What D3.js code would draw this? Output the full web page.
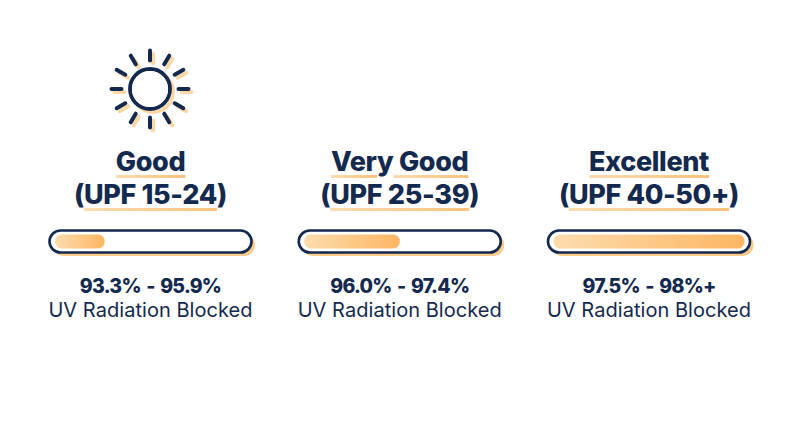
<!DOCTYPE html>
<html>
<head>
<meta charset="utf-8">
<script src="https://cdnjs.cloudflare.com/ajax/libs/d3/7.8.5/d3.min.js"></script>
<style>
  html, body { margin: 0; padding: 0; background: #fff; overflow: hidden; }
  text { font-family: Inter, "Open Sans", sans-serif; fill: #14294e; text-anchor: middle; }
  .rating { font-size: 27px; font-weight: 800; letter-spacing: -0.35px; }
  .range { font-size: 19.5px; font-weight: 800; letter-spacing: -0.75px; word-spacing: 2px; }
  .note { font-size: 20px; font-weight: 400; letter-spacing: 0.05px; }
</style>
</head>
<body>
<svg id="chart" width="800" height="447"></svg>
<script>
// values
const ratings = ['Good', 'Very Good', 'Excellent'];
const upf_labels = ['(UPF 15-24)', '(UPF 25-39)', '(UPF 40-50+)'];
const blocked_ranges = ['93.3% - 95.9%', '96.0% - 97.4%', '97.5% - 98%+'];
const note_label = 'UV Radiation Blocked';
const fill_shares = [0.26, 0.5, 1];

const navy = '#14294e';
const shadow = '#fbcb8a';

const svg = d3.select('#chart');
const defs = svg.append('defs');

const x = d3.scalePoint().domain(ratings).range([150.5, 649]);
const bar_w = 202, bar_h = 22, bar_y = 230.5, inset = 5.5;
const fill_x = d3.scaleLinear().domain([0, 1]).range([0, bar_w - 2 * inset]);

// gradients run across the drawn width, so one each
ratings.forEach((d, i) => {
  const g = defs.append('linearGradient').attr('id', `fill${i}`);
  g.append('stop').attr('offset', 0).attr('stop-color', '#fcdcae');
  g.append('stop').attr('offset', 1).attr('stop-color', '#fdb662');
});
const line_grad = defs.append('linearGradient').attr('id', 'under');
line_grad.append('stop').attr('offset', 0).attr('stop-color', '#fbdcb0');
line_grad.append('stop').attr('offset', 1).attr('stop-color', '#f9c27c');

// the sun only sits over the first column
function draw_sun(cx, cy) {
  const ray = d3.lineRadial();
  const layers = [[3, shadow, 0.75], [0, navy, 1]];
  layers.forEach(([off, color, op]) => {
    const g = svg.append('g')
      .attr('transform', `translate(${cx + off},${cy + off})`)
      .attr('stroke', color)
      .attr('opacity', op)
      .attr('fill', 'none')
      .attr('stroke-linecap', 'round');
    g.append('circle').attr('r', 20).attr('stroke-width', 3.8);
    g.selectAll('path')
      .data(d3.range(12))
      .join('path')
      .attr('stroke-width', 4)
      .attr('d', d => ray([[d * Math.PI / 6, 28.5], [d * Math.PI / 6, 38.5]]));
  });
  // white disc keeps the shadow ring from showing through the middle
  svg.append('circle').attr('cx', cx).attr('cy', cy).attr('r', 18).attr('fill', '#fff');
}

// underline stops at letters that hang below the baseline
function underline(node, y) {
  const str = node.textContent;
  const segs = [];
  let start = null;
  for (let i = 0; i < str.length; i++) {
    if ('()y'.includes(str[i])) {
      if (start !== null) {
        segs.push([start, node.getStartPositionOfChar(i).x]);
        start = null;
      }
    } else if (start === null) {
      start = node.getStartPositionOfChar(i).x;
    }
  }
  if (start !== null) segs.push([start, node.getEndPositionOfChar(str.length - 1).x]);
  segs.forEach(([a, b]) => {
    svg.insert('rect', 'text')
      .attr('x', a)
      .attr('y', y)
      .attr('width', b - a)
      .attr('height', 3)
      .attr('fill', 'url(#under)');
  });
}

draw_sun(150, 89);

ratings.forEach((d, i) => {
  const cx = x(d);
  const left = cx - bar_w / 2;

  const t1 = svg.append('text').attr('class', 'rating').attr('x', cx).attr('y', 171).text(d);
  underline(t1.node(), 175);
  const t2 = svg.append('text').attr('class', 'rating').attr('x', cx).attr('y', 204).text(upf_labels[i]);
  underline(t2.node(), 208);

  // bar: shadow, outline, fill
  svg.append('rect')
    .attr('x', left + 3.5).attr('y', bar_y + 3.5)
    .attr('width', bar_w).attr('height', bar_h)
    .attr('rx', bar_h / 2)
    .attr('fill', shadow);
  svg.append('rect')
    .attr('x', left).attr('y', bar_y)
    .attr('width', bar_w).attr('height', bar_h)
    .attr('rx', bar_h / 2)
    .attr('fill', '#fff')
    .attr('stroke', navy)
    .attr('stroke-width', 2.6);
  svg.append('rect')
    .attr('x', left + inset).attr('y', bar_y + 4)
    .attr('width', fill_x(fill_shares[i])).attr('height', bar_h - 8)
    .attr('rx', 6.5)
    .attr('fill', `url(#fill${i})`);

  svg.append('text').attr('class', 'range').attr('x', cx).attr('y', 293).text(blocked_ranges[i]);
  svg.append('text').attr('class', 'note').attr('x', cx).attr('y', 317).text(note_label);
});
</script>
</body>
</html>
